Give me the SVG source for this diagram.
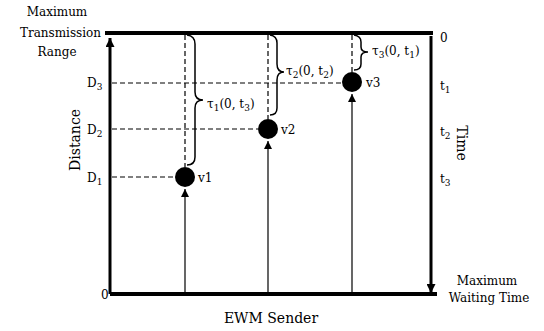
<svg xmlns="http://www.w3.org/2000/svg" width="544" height="331" viewBox="0 0 544 331" font-family="'DejaVu Serif', 'Liberation Serif', serif">
<style>
text{font-family:"DejaVu Serif","Liberation Serif",serif;fill:#000}
.lbl{font-size:12px}
.big{font-size:14px}
.thick{stroke:#000;stroke-width:4;fill:none}
.axis{stroke:#000;stroke-width:3;fill:none}
.thin{stroke:#000;stroke-width:1.2;fill:none}
.dash{stroke:#000;stroke-width:1.2;stroke-dasharray:5,3;fill:none}
.brace{stroke:#000;stroke-width:1.5;fill:none}
</style>
<defs>
<marker id="ah" viewBox="0 0 10 10" refX="10" refY="5" markerWidth="8" markerHeight="8" markerUnits="userSpaceOnUse" orient="auto">
<path d="M0,0 L10,5 L0,10 z" fill="#000"/>
</marker>
<marker id="big" viewBox="0 0 10 10" refX="10" refY="5" markerWidth="11" markerHeight="9" markerUnits="userSpaceOnUse" orient="auto">
<path d="M0,0 L10,5 L0,10 z" fill="#000"/>
</marker>
</defs>
<g id="frame">
<line class="thick" x1="105" y1="33" x2="433" y2="33"/>
<line class="thick" x1="110" y1="294" x2="437" y2="294"/>
<line class="axis" x1="110" y1="294" x2="110" y2="38" marker-end="url(#big)"/>
<line class="axis" x1="431" y1="36" x2="431" y2="293" marker-end="url(#big)"/>
</g>
<g id="connectors">
<line class="dash" x1="112" y1="83" x2="342" y2="83"/>
<line class="dash" x1="112" y1="129" x2="258" y2="129"/>
<line class="dash" x1="112" y1="177" x2="175" y2="177"/>
<line class="dash" x1="185" y1="35" x2="185" y2="167"/>
<line class="dash" x1="268" y1="35" x2="268" y2="119"/>
<line class="dash" x1="352" y1="35" x2="352" y2="72"/>
<line class="thin" x1="185" y1="294" x2="185" y2="189" marker-end="url(#ah)"/>
<line class="thin" x1="268" y1="294" x2="268" y2="141" marker-end="url(#ah)"/>
<line class="thin" x1="352" y1="294" x2="352" y2="94" marker-end="url(#ah)"/>
<path class="brace" d="M187,35 Q195,36 195,44 L195,92 Q195,100 203,100 Q195,100 195,108 L195,157 Q195,165 187,165"/>
<path class="brace" d="M270,35 Q277,36 277,43 L277,64 Q277,72 284,72 Q277,72 277,80 L277,108 Q277,115 270,115"/>
<path class="brace" d="M354,35 Q361,36 361,42 L361,47 Q361,52 368,52 Q361,52 361,57 L361,64 Q361,70 354,70"/>
</g>
<g id="v1">
<circle cx="185" cy="177" r="10" fill="#000"/>
<text class="lbl" x="198" y="182">v1</text>
</g>
<g id="v2">
<circle cx="268" cy="129" r="10" fill="#000"/>
<text class="lbl" x="281" y="134">v2</text>
</g>
<g id="v3">
<circle cx="352" cy="82" r="10" fill="#000"/>
<text class="lbl" x="366" y="87">v3</text>
</g>
<g id="labels">
<text class="lbl" x="57" y="16" text-anchor="middle">Maximum</text>
<text class="lbl" x="101" y="37" text-anchor="end">Transmission</text>
<text class="lbl" x="57" y="56" text-anchor="middle">Range</text>
<text class="lbl" x="87" y="87">D<tspan font-size="9" dy="3">3</tspan></text>
<text class="lbl" x="87" y="134">D<tspan font-size="9" dy="3">2</tspan></text>
<text class="lbl" x="87" y="182">D<tspan font-size="9" dy="3">1</tspan></text>
<text class="lbl" x="101" y="299" font-family="Liberation Sans,sans-serif">0</text>
<text class="big" transform="translate(80,140) rotate(-90)" text-anchor="middle">Distance</text>
<text class="lbl" x="207" y="108">τ<tspan font-size="9" dy="3">1</tspan><tspan dy="-3">(0, t</tspan><tspan font-size="9" dy="3">3</tspan><tspan dy="-3">)</tspan></text>
<text class="lbl" x="286" y="75">τ<tspan font-size="9" dy="3">2</tspan><tspan dy="-3">(0, t</tspan><tspan font-size="9" dy="3">2</tspan><tspan dy="-3">)</tspan></text>
<text class="lbl" x="372" y="55">τ<tspan font-size="9" dy="3">3</tspan><tspan dy="-3">(0, t</tspan><tspan font-size="9" dy="3">1</tspan><tspan dy="-3">)</tspan></text>
<text class="lbl" x="440" y="42" font-family="Liberation Sans,sans-serif">0</text>
<text class="lbl" x="440" y="90">t<tspan font-size="9" dy="3">1</tspan></text>
<text class="lbl" x="440" y="136">t<tspan font-size="9" dy="3">2</tspan></text>
<text class="lbl" x="440" y="183">t<tspan font-size="9" dy="3">3</tspan></text>
<text class="big" transform="translate(457,143) rotate(90)" text-anchor="middle">Time</text>
<text class="lbl" x="487" y="285" text-anchor="middle">Maximum</text>
<text class="lbl" x="489" y="302" text-anchor="middle">Waiting Time</text>
<text class="big" x="271" y="323" text-anchor="middle">EWM Sender</text>
</g>
</svg>
